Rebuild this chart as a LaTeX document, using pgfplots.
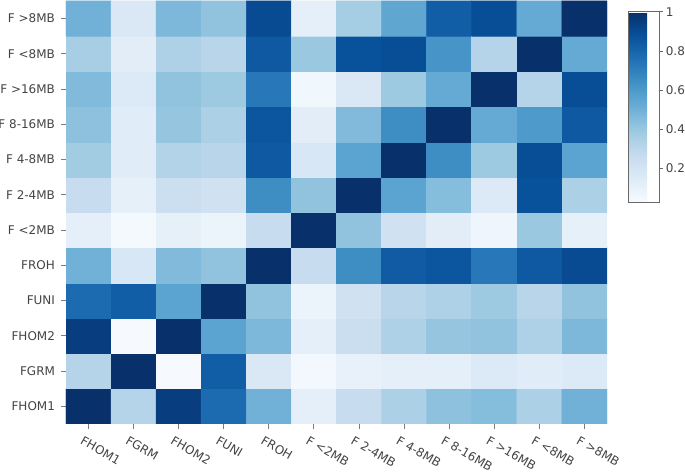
\documentclass[border=0pt]{standalone}
\usepackage{pgfplots}
\pgfplotsset{compat=1.18}
\usepackage{fontspec}
\setmainfont{DejaVu Sans}
\definecolor{ticklab}{RGB}{68,68,68}
\begin{document}
\begin{tikzpicture}
\begin{axis}[
  name=main,
  scale only axis,
  width=405.75pt, height=317.25pt,
  xmin=-0.5, xmax=11.5, ymin=-0.5, ymax=11.5,
  axis line style={draw=none},
  tick align=outside,
  xtick pos=bottom, ytick pos=left,
  major tick length=3.75pt,
  tick style={draw=ticklab!70, line width=0.75pt},
  xtick={0,...,11}, ytick={0,...,11},
  xticklabels={FHOM1,FGRM,FHOM2,FUNI,FROH,F <2MB,F 2-4MB,F 4-8MB,F 8-16MB,F >16MB,F <8MB,F >8MB},
  yticklabels={FHOM1,FGRM,FHOM2,FUNI,FROH,F <2MB,F 2-4MB,F 4-8MB,F 8-16MB,F >16MB,F <8MB,F >8MB},
  ticklabel style={font=\fontsize{9pt}{10pt}\selectfont, text=ticklab},
  xticklabel style={rotate=-30, anchor=north west, inner sep=1pt, xshift=-1.5pt, yshift=-4.8pt},
  yticklabel style={xshift=-1pt},
  colormap={blues}{rgb255=(247,251,255) rgb255=(222,235,247) rgb255=(198,219,239) rgb255=(158,202,225) rgb255=(107,174,214) rgb255=(66,146,198) rgb255=(33,113,181) rgb255=(8,81,156) rgb255=(8,48,107)},
  point meta min=0.026, point meta max=1,
  colorbar,
  colorbar style={
    scale only axis,
    width=23.25pt, height=143pt,
    at={(1.039,0.974)}, anchor=north west,
    ytick={0.2,0.4,0.6,0.8,1},
    axis line style={draw=ticklab!80, line width=0.75pt},
    tick align=outside, ytick pos=right,
    major tick length=3pt,
    ytick style={draw=ticklab!80, line width=0.75pt},
    yticklabel style={font=\fontsize{9pt}{10pt}\selectfont, text=ticklab, xshift=-1.5pt},
    /pgf/number format/assume math mode=true,
  },
]
\addplot[matrix plot*, mesh/cols=12, point meta=explicit] table[meta=z] {
x y z
0 0 1.0
1 0 0.32
2 0 0.95
3 0 0.78
4 0 0.5
5 0 0.12
6 0 0.26
7 0 0.35
8 0 0.43
9 0 0.45
10 0 0.35
11 0 0.5
0 1 0.32
1 1 1.0
2 1 0.03
3 1 0.83
4 1 0.17
5 1 0.05
6 1 0.1
7 1 0.12
8 1 0.12
9 1 0.16
10 1 0.14
11 1 0.16
0 2 0.95
1 2 0.03
2 2 1.0
3 2 0.56
4 2 0.47
5 2 0.12
6 2 0.25
7 2 0.34
8 2 0.41
9 2 0.42
10 2 0.34
11 2 0.47
0 3 0.78
1 3 0.83
2 3 0.56
3 3 1.0
4 3 0.42
5 3 0.08
6 3 0.22
7 3 0.31
8 3 0.34
9 3 0.39
10 3 0.31
11 3 0.42
0 4 0.5
1 4 0.18
2 4 0.46
3 4 0.42
4 4 1.0
5 4 0.26
6 4 0.65
7 4 0.84
8 4 0.86
9 4 0.73
10 4 0.85
11 4 0.9
0 5 0.12
1 5 0.04
2 5 0.11
3 5 0.08
4 5 0.26
5 5 1.0
6 5 0.42
7 5 0.22
8 5 0.13
9 5 0.07
10 5 0.4
11 5 0.11
0 6 0.26
1 6 0.11
2 6 0.24
3 6 0.22
4 6 0.65
5 6 0.42
6 6 1.0
7 6 0.56
8 6 0.45
9 6 0.16
10 6 0.88
11 6 0.35
0 7 0.38
1 7 0.14
2 7 0.33
3 7 0.31
4 7 0.85
5 7 0.18
6 7 0.56
7 7 1.0
8 7 0.65
9 7 0.39
10 7 0.89
11 7 0.56
0 8 0.43
1 8 0.14
2 8 0.41
3 8 0.35
4 8 0.86
5 8 0.13
6 8 0.46
7 8 0.65
8 8 1.0
9 8 0.53
10 8 0.6
11 8 0.85
0 9 0.46
1 9 0.16
2 9 0.42
3 9 0.39
4 9 0.73
5 9 0.06
6 9 0.17
7 9 0.39
8 9 0.53
9 9 1.0
10 9 0.32
11 9 0.89
0 10 0.36
1 10 0.13
2 10 0.34
3 10 0.31
4 10 0.85
5 10 0.4
6 10 0.88
7 10 0.89
8 10 0.62
9 10 0.32
10 10 1.0
11 10 0.53
0 11 0.5
1 11 0.17
2 11 0.47
3 11 0.42
4 11 0.9
5 11 0.12
6 11 0.37
7 11 0.55
8 11 0.83
9 11 0.89
10 11 0.53
11 11 1.0
};
\end{axis}
\pgfresetboundingbox
\path ([xshift=-49.5pt,yshift=-36.75pt]main.south west) rectangle ([xshift=58.5pt,yshift=0.75pt]main.north east);
\end{tikzpicture}
\end{document}
